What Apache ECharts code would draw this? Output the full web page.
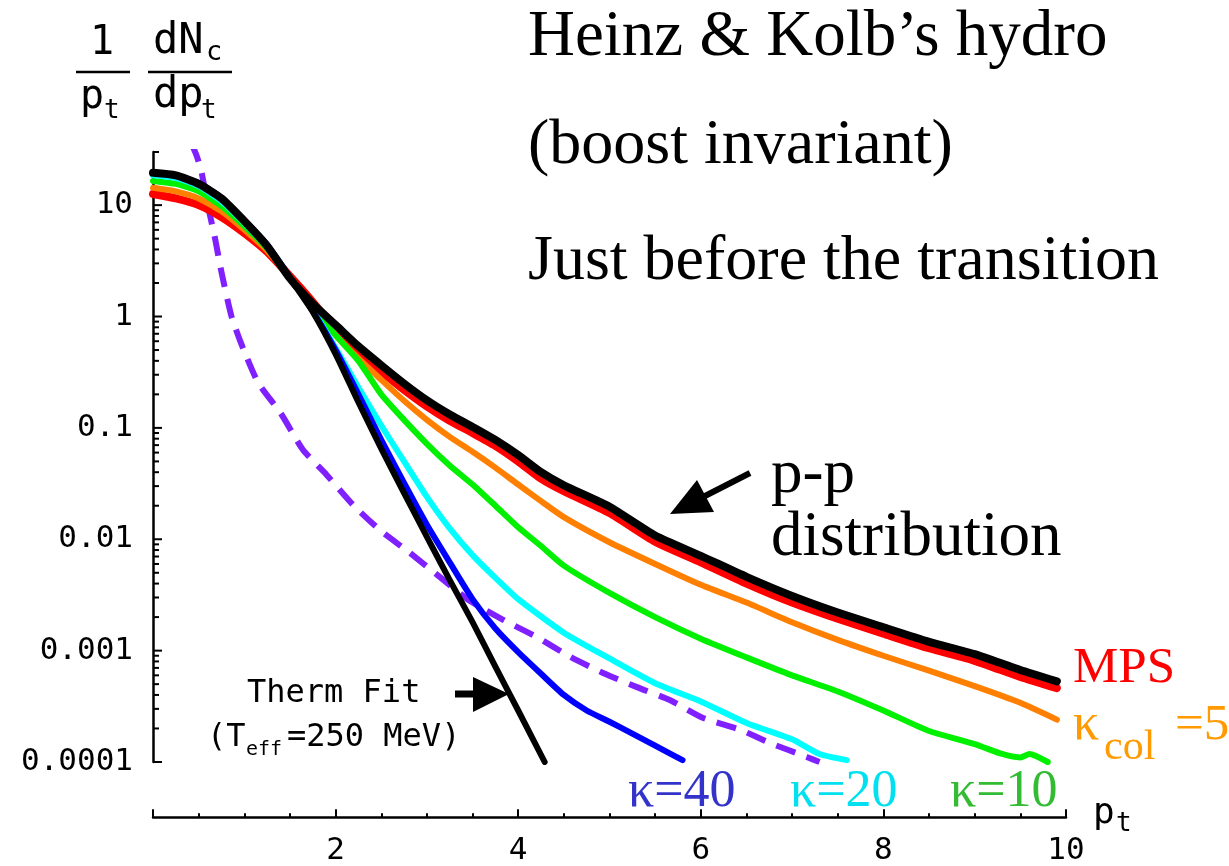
<!DOCTYPE html>
<html>
<head>
<meta charset="utf-8">
<script src="https://cdn.jsdelivr.net/npm/echarts@6/dist/echarts.min.js"></script>
<style>
  html, body { margin: 0; padding: 0; background: #fff; }
  #chart { width: 1229px; height: 866px; }
</style>
</head>
<body>
<div id="chart"></div>
<script>
// ---- spectra: 1/pt dNc/dpt versus pt ----
const ptGrid = [0, 0.25, 0.5, 0.75, 1.0, 1.25, 1.5, 1.75, 2.0, 2.25, 2.5, 2.75, 3.0, 3.25, 3.5, 3.75,
                4.0, 4.25, 4.5, 5.0, 5.5, 6.0, 6.5, 7.0, 7.5, 8.0, 8.5, 9.0, 9.5, 9.9];

const ppValues = [19.5, 18.5, 15.5, 11.5, 7.2, 4.3, 2.2, 1.3, 0.84, 0.54, 0.365, 0.25, 0.177, 0.132, 0.102, 0.078,
                  0.057, 0.040, 0.0305, 0.0196, 0.0108, 0.0071, 0.0046, 0.0031, 0.0022, 0.00162, 0.00120, 0.00093, 0.00067, 0.00053];

const mpsValues = [12.6, 11.5, 10.0, 7.8, 5.6, 3.8, 2.3, 1.35, 0.76, 0.48, 0.322, 0.22, 0.156, 0.116, 0.090, 0.069,
                   0.050, 0.035, 0.027, 0.0172, 0.0095, 0.0062, 0.0040, 0.0027, 0.00193, 0.00142, 0.00105, 0.00081, 0.00058, 0.00046];

const k5Values = [14.3, 13.3, 11.5, 8.8, 6.0, 3.9, 2.25, 1.25, 0.68, 0.42, 0.27, 0.175, 0.118, 0.083, 0.061, 0.044,
                  0.031, 0.022, 0.0158, 0.0094, 0.0060, 0.0039, 0.0027, 0.00180, 0.00125, 0.00090, 0.00066, 0.00048, 0.00034, 0.00024];

const k10Pt = [0, 0.25, 0.5, 0.75, 1.0, 1.25, 1.5, 1.75, 2.0, 2.25, 2.5, 2.75, 3.0, 3.25, 3.5, 3.75,
               4.0, 4.25, 4.5, 5.0, 5.5, 6.0, 6.5, 7.0, 7.5, 8.0, 8.5, 9.0, 9.3, 9.5, 9.6, 9.8];
const k10Values = [16.5, 15.5, 13.3, 9.8, 6.5, 4.1, 2.2, 1.2, 0.68, 0.40, 0.20, 0.118, 0.072, 0.046, 0.031, 0.020,
                   0.0128, 0.0087, 0.0058, 0.0033, 0.0020, 0.00128, 0.00087, 0.00060, 0.00043, 0.00029, 0.00019, 0.000145, 0.000118, 0.00011, 0.000118, 0.0001];

const k20Pt = [0, 0.25, 0.5, 0.75, 1.0, 1.25, 1.5, 1.75, 2.0, 2.25, 2.5, 2.75, 3.0, 3.25, 3.5, 3.75,
               4.0, 4.5, 5.0, 5.5, 6.0, 6.5, 7.0, 7.3, 7.6];
const k20Values = [18.5, 17.5, 14.8, 10.8, 6.9, 4.2, 2.25, 1.15, 0.52, 0.23, 0.105, 0.050, 0.024, 0.0125, 0.0072, 0.0045,
                   0.0029, 0.00145, 0.00085, 0.00051, 0.00035, 0.000224, 0.000160, 0.000118, 0.000104];

const k40Pt = [0, 0.25, 0.5, 0.75, 1.0, 1.25, 1.5, 1.75, 2.0, 2.25, 2.5, 2.75, 3.0, 3.25, 3.5, 3.75,
               4.0, 4.25, 4.5, 4.75, 5.0, 5.25, 5.5, 5.8];
const k40Values = [19.5, 18.5, 15.8, 11.6, 7.3, 4.4, 2.25, 1.12, 0.50, 0.20, 0.078, 0.032, 0.0135, 0.0062, 0.0029, 0.00158,
                   0.00097, 0.00062, 0.00040, 0.00029, 0.00023, 0.00018, 0.000140, 0.000104];

const thermPt = [0, 0.25, 0.5, 0.75, 1.0, 1.25, 1.5, 1.75, 2.0, 2.25, 2.5, 2.75, 3.0, 3.25, 3.5, 3.75, 4.0, 4.29];
const thermValues = [19.5, 18.5, 15.5, 11.5, 7.2, 4.3, 2.2, 1.1, 0.46, 0.17, 0.065, 0.026, 0.0105, 0.0043, 0.0018, 0.00072, 0.00029, 0.0001];

const dashPt = [0.42, 0.48, 0.53, 0.6, 0.68, 0.75, 0.86, 0.99, 1.15, 1.4, 1.64, 1.9, 2.2, 2.5, 2.8, 3.14,
                3.47, 3.83, 4.2, 4.57, 4.93, 5.3, 5.66, 6.02, 6.43, 6.76, 7.16, 7.3];
const dashValues = [36, 27.5, 20, 10, 5.0, 2.5, 1.0, 0.51, 0.256, 0.135, 0.064, 0.038, 0.020, 0.0118, 0.0077, 0.0046,
                    0.0028, 0.0019, 0.00133, 0.00088, 0.00063, 0.00047, 0.00036, 0.00025, 0.000195, 0.000148, 0.000111, 0.0001];

// ---- axis ticks ----
const yTickLabels = ['0.0001', '0.001', '0.01', '0.1', '1', '10'];
const yMajorTicks = [0.0001, 0.001, 0.01, 0.1, 1, 10];
const yMinorTicks = [];
for (let e = -4; e <= 0; e++) {
  for (let m = 2; m <= 9; m++) yMinorTicks.push(m * Math.pow(10, e));
}
yMinorTicks.push(20, 30);
const xTickLabels = ['', '2', '4', '6', '8', '10'];

// ---- fonts ----
const MONO = "'DejaVu Sans Mono', 'Liberation Mono', monospace";
const SERIF = "'Liberation Serif', 'Times New Roman', serif";
const K_MONO = 0.346;   // distance of the canvas 'middle' line above the baseline, in em
const K_SERIF = 0.3375;

function pairs(xs, ys) { return xs.map((x, i) => [x, ys[i]]); }

function curve(name, xs, ys, color, width, extra) {
  return Object.assign({
    name: name, type: 'line', xAxisIndex: 0, yAxisIndex: 0,
    data: pairs(xs, ys), showSymbol: false, symbol: 'none',
    smooth: 0.2, silent: true,
    lineStyle: { color: color, width: width, join: 'round', cap: 'round' }
  }, extra || {});
}

function tickSeries(values, len) {
  return {
    type: 'custom', xAxisIndex: 0, yAxisIndex: 0, silent: true, clip: false,
    data: values.map(v => [0, v]),
    renderItem: function (params, api) {
      const p = api.coord([0, api.value(1)]);
      return {
        type: 'line',
        shape: { x1: p[0], y1: p[1], x2: p[0] + len, y2: p[1] },
        style: { stroke: '#000', lineWidth: 2 }
      };
    }
  };
}

function txt(str, left, baseline, size, family, color, k) {
  return {
    type: 'text', x: left, y: baseline - k * size, silent: true,
    style: { text: str, font: size + 'px ' + family, fill: color,
             textAlign: 'left', textVerticalAlign: 'middle' }
  };
}

function bar(x1, x2, y) {
  return { type: 'line', silent: true, shape: { x1: x1, y1: y, x2: x2, y2: y },
           style: { stroke: '#000', lineWidth: 2.5 } };
}

const chart = echarts.init(document.getElementById('chart'), null, { renderer: 'canvas' });

const graphics = [
  // 1/pt dNc/dpt
  txt('1', 90, 57, 40, MONO, '#000', K_MONO),
  bar(76, 130, 72),
  txt('p', 80, 111, 40, MONO, '#000', K_MONO),
  txt('t', 104, 120, 26, MONO, '#000', K_MONO),
  txt('dN', 153, 57, 42, MONO, '#000', K_MONO),
  txt('c', 206, 62, 27, MONO, '#000', K_MONO),
  bar(148, 232, 72),
  txt('dp', 153, 111, 42, MONO, '#000', K_MONO),
  txt('t', 201, 120, 26, MONO, '#000', K_MONO),
  // x axis name
  txt('p', 1093, 826, 36, MONO, '#000', K_MONO),
  txt('t', 1116, 833, 26, MONO, '#000', K_MONO),
  // headings
  txt('Heinz & Kolb\u2019s hydro', 528, 60, 65, SERIF, '#000', K_SERIF),
  txt('(boost invariant)', 528, 168, 64, SERIF, '#000', K_SERIF),
  txt('Just before the transition', 528, 284, 64, SERIF, '#000', K_SERIF),
  txt('p-p', 771, 497, 63, SERIF, '#000', K_SERIF),
  txt('distribution', 771, 560, 63, SERIF, '#000', K_SERIF),
  // curve labels
  txt('MPS', 1073, 686, 51, SERIF, '#ff0000', K_SERIF),
  txt('\u03ba', 1073, 743, 52, SERIF, '#ff9a00', K_SERIF),
  txt('col', 1104, 762, 42, SERIF, '#ff9a00', K_SERIF),
  txt('=5', 1175, 743, 51, SERIF, '#ff9a00', K_SERIF),
  txt('\u03ba=40', 628, 810, 52, SERIF, '#3333cc', K_SERIF),
  txt('\u03ba=20', 790, 810, 52, SERIF, '#00e0ee', K_SERIF),
  txt('\u03ba=10', 950, 810, 52, SERIF, '#33bb33', K_SERIF),
  // thermal fit note
  txt('Therm Fit', 247, 705, 32, MONO, '#000', K_MONO),
  txt('(T', 207, 749, 32, MONO, '#000', K_MONO),
  txt('eff', 246, 757, 20, MONO, '#000', K_MONO),
  txt('=250 MeV)', 287, 749, 32, MONO, '#000', K_MONO),
  // arrows
  { type: 'line', silent: true, shape: { x1: 750, y1: 473, x2: 703, y2: 497 },
    style: { stroke: '#000', lineWidth: 6 } },
  { type: 'polygon', silent: true, shape: { points: [[670, 514], [697, 480], [714, 512]] },
    style: { fill: '#000' } },
  { type: 'line', silent: true, shape: { x1: 455, y1: 694, x2: 476, y2: 694 },
    style: { stroke: '#000', lineWidth: 7 } },
  { type: 'polygon', silent: true, shape: { points: [[473, 677], [473, 712], [509, 694]] },
    style: { fill: '#000' } }
];

const option = {
  animation: false,
  backgroundColor: '#ffffff',
  grid: [
    { left: 153, top: 152, width: 913, height: 610 },
    { left: 153, top: 817, width: 913, height: 1 }
  ],
  xAxis: [
    { gridIndex: 0, type: 'value', min: 0, max: 10, show: false },
    {
      gridIndex: 1, type: 'value', min: 0, max: 10, interval: 2,
      axisLine: { show: true, onZero: false, lineStyle: { color: '#000', width: 2.5 } },
      axisTick: { show: true, inside: true, length: 8, lineStyle: { color: '#000', width: 2 } },
      minorTick: { show: true, splitNumber: 4, length: 4, lineStyle: { color: '#000', width: 2 } },
      splitLine: { show: false },
      minorSplitLine: { show: false },
      axisLabel: {
        margin: 18, color: '#000', fontFamily: MONO, fontSize: 31,
        formatter: v => xTickLabels[Math.round(v / 2)] || ''
      }
    }
  ],
  yAxis: [
    {
      gridIndex: 0, type: 'log', logBase: 10, min: 0.0001, max: 30, splitNumber: 6,
      axisLine: { show: true, onZero: false, lineStyle: { color: '#000', width: 2.5 } },
      axisTick: { show: false },
      splitLine: { show: false },
      axisLabel: {
        margin: 20, color: '#000', fontFamily: MONO, fontSize: 31,
        formatter: function (v) {
          const l = Math.log10(v);
          const e = Math.round(l);
          if (Math.abs(l - e) > 1e-6) return '';
          return yTickLabels[e + 4] || '';
        }
      }
    },
    { gridIndex: 1, type: 'value', show: false, min: 0, max: 1 }
  ],
  graphic: { elements: graphics },
  series: [
    curve('hydro', dashPt, dashValues, '#8020ff', 6,
          { lineStyle: { color: '#8020ff', width: 6, type: [20, 12], cap: 'butt', join: 'round' } }),
    curve('MPS', ptGrid, mpsValues, '#ff0000', 8),
    curve('kappa5', ptGrid, k5Values, '#ff7f00', 6),
    curve('kappa10', k10Pt, k10Values, '#00f000', 6),
    curve('kappa20', k20Pt, k20Values, '#00ffff', 6),
    curve('kappa40', k40Pt, k40Values, '#0000ff', 6),
    curve('therm', thermPt, thermValues, '#000000', 6),
    curve('pp', ptGrid, ppValues, '#000000', 8),
    tickSeries(yMajorTicks, 9),
    tickSeries(yMinorTicks, 6)
  ]
};

chart.setOption(option);
</script>
</body>
</html>
